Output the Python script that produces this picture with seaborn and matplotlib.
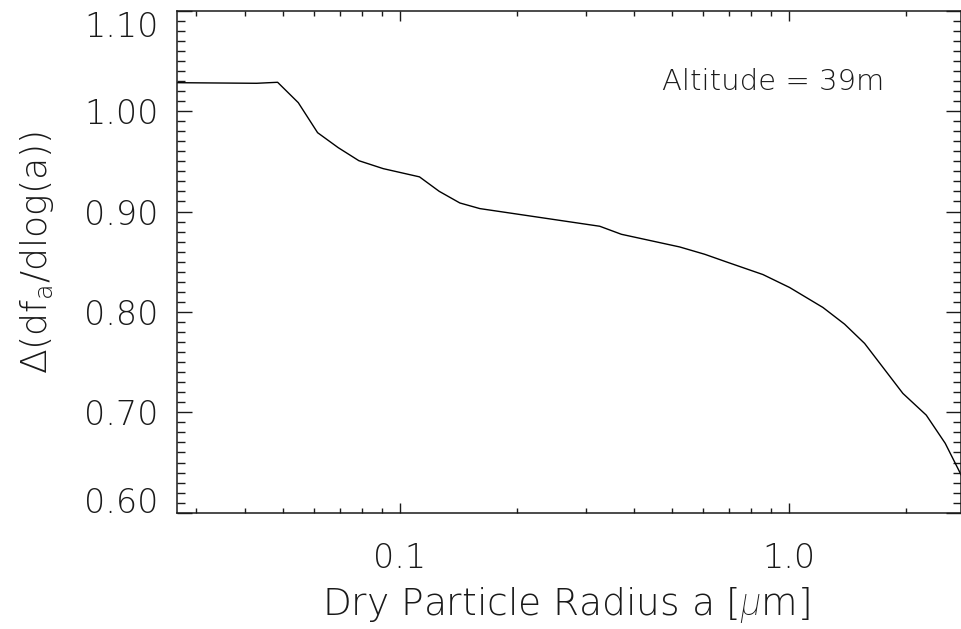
import numpy as np
import pandas as pd
import matplotlib
matplotlib.use("Agg")
import matplotlib.pyplot as plt
from matplotlib.ticker import MultipleLocator, LogLocator, FixedLocator, FixedFormatter, NullFormatter
import seaborn as sns

# Data
radius = [0.02669, 0.04284, 0.04850, 0.05481, 0.06145, 0.06942, 0.07845, 0.09060,
          0.1123, 0.1262, 0.1426, 0.1605, 0.3264, 0.3710, 0.5237, 0.6074, 0.6906,
          0.8574, 1.004, 1.223, 1.390, 1.565, 1.963, 2.254, 2.522, 2.772]
delta = [1.0283, 1.0277, 1.0287, 1.0084, 0.9785, 0.9636, 0.9506, 0.9427,
         0.9345, 0.9201, 0.9085, 0.9029, 0.8853, 0.8773, 0.8647, 0.8574, 0.8498,
         0.8372, 0.8243, 0.8044, 0.7878, 0.7686, 0.7188, 0.6972, 0.6691, 0.6375]
x_ticks = [0.1, 1.0]
x_tick_labels = ["0.1", "1.0"]
y_ticks = [0.60, 0.70, 0.80, 0.90, 1.00, 1.10]
y_tick_labels = ["0.60", "0.70", "0.80", "0.90", "1.00", "1.10"]
annotation = "Altitude = 39m"

sns.set_style("ticks")
plt.rcParams["font.family"] = ["DejaVu Sans"]
plt.rcParams["font.weight"] = "light"
plt.rcParams["axes.labelweight"] = "light"
plt.rcParams["mathtext.fontset"] = "custom"
plt.rcParams["mathtext.rm"] = "DejaVu Sans:light"
plt.rcParams["mathtext.it"] = "Roboto:italic:light"

df = pd.DataFrame({"radius": radius, "delta": delta})

fig = plt.figure(figsize=(9.62, 6.29), dpi=100)
ax = fig.add_axes([176.7 / 962, (629 - 512.7) / 629, 784.5 / 962, 502 / 629])

sns.lineplot(data=df, x="radius", y="delta", ax=ax, color="black", linewidth=1.0,
             estimator=None, sort=False)

ax.set_xscale("log")
ax.set_xlim(0.02669, 2.772)
ax.set_ylim(0.60, 1.10)

ax.xaxis.set_major_locator(FixedLocator(x_ticks))
ax.xaxis.set_major_formatter(FixedFormatter(x_tick_labels))
ax.xaxis.set_minor_locator(LogLocator(base=10, subs=np.arange(2, 10)))
ax.xaxis.set_minor_formatter(NullFormatter())
ax.yaxis.set_major_locator(FixedLocator(y_ticks))
ax.yaxis.set_major_formatter(FixedFormatter(y_tick_labels))
ax.yaxis.set_minor_locator(MultipleLocator(0.01))

tc = "#1a1a1a"
for s in ax.spines.values():
    s.set_visible(True)
    s.set_linewidth(1.1)
    s.set_color(tc)

ax.tick_params(axis="x", which="major", direction="in", length=7.5, width=1.0,
               top=True, bottom=True, labelsize=24, pad=21, colors=tc)
ax.tick_params(axis="x", which="minor", direction="in", length=3.8, width=1.0,
               top=True, bottom=True, colors=tc)
ax.tick_params(axis="y", which="major", direction="in", length=10.5, width=1.0,
               left=True, right=True, labelsize=24, pad=13, colors=tc)
ax.tick_params(axis="y", which="minor", direction="in", length=5.8, width=1.0,
               left=True, right=True, colors=tc)

# IDL-style: keep the end labels inside the axis extent
yt = ax.yaxis.get_major_ticks()
yt[-1].label1.set_va("top")
yt[0].label1.set_va("baseline")

ax.set_xlabel(r"Dry Particle Radius a [$\mu$m]", fontsize=27, color=tc)
ax.xaxis.set_label_coords((566 - 176.7) / 784.5, (512.7 - 585) / 502)
ax.set_ylabel("Δ(df$_{\\rm a}$/dlog(a))", fontsize=26, color=tc)
ax.yaxis.set_label_coords((56 - 176.7) / 784.5, (512.7 - 253) / 502)

ax.text((662 - 176.7) / 784.5, (512.7 - 81.7) / 502, annotation, transform=ax.transAxes,
        fontsize=21, color=tc, ha="left", va="center")

fig.savefig("out.png", dpi=100)
